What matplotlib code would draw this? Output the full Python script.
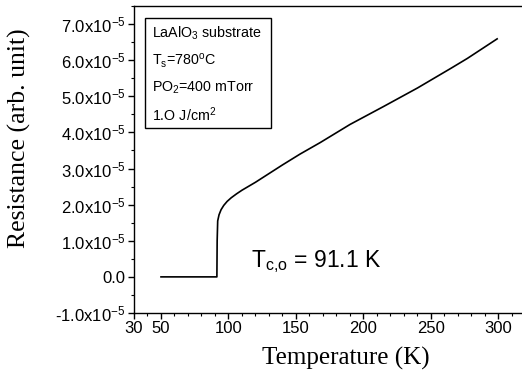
import matplotlib.pyplot as plt
from matplotlib.patches import Rectangle
from matplotlib.ticker import MultipleLocator, FixedLocator

plt.rcParams['font.family'] = ['Liberation Sans', 'DejaVu Sans']
plt.rcParams['mathtext.default'] = 'regular'
plt.rcParams['axes.unicode_minus'] = False

# temperature (K) and resistance (units of 1e-5)
temps = [50, 91.4, 91.6, 92.0, 93.0, 94.5, 96.5, 99, 102, 106, 110, 115,
         120, 130, 140, 153, 168, 190, 215, 240, 265, 277, 299]
resist = [0, 0, 1.0, 1.55, 1.72, 1.86, 1.98, 2.09, 2.19, 2.30, 2.40, 2.51,
          2.62, 2.86, 3.10, 3.40, 3.72, 4.22, 4.72, 5.23, 5.78, 6.05, 6.59]

x_ticks = [30, 50, 100, 150, 200, 250, 300]
y_ticks = [-1, 0, 1, 2, 3, 4, 5, 6, 7]
y_labels = ['-1.0x10$^{-5}$', '0.0'] + ['%d.0x10$^{-5}$' % v for v in range(1, 8)]

box_lines = ['LaAlO$_3$ substrate', 'T$_s$=780$^o$C', 'PO$_2$=400 mTorr', '1.O J/cm$^2$']

fig = plt.figure(figsize=(5.22, 3.72), dpi=100)
ax = fig.add_axes([0.2567, 0.1586, 0.75, 0.8253])

ax.plot(temps, resist, color='black', lw=1.2)

ax.set_xlim(30, 320)
ax.set_ylim(-1, 7.5)

ax.xaxis.set_major_locator(FixedLocator(x_ticks))
ax.xaxis.set_minor_locator(MultipleLocator(10))
ax.set_yticks(y_ticks)
ax.set_yticklabels(y_labels)
ax.yaxis.set_minor_locator(MultipleLocator(0.5))

ax.tick_params(which='major', length=4, width=1, labelsize=12, pad=2)
ax.tick_params(which='minor', length=2.5, width=0.8)
for s in ax.spines.values():
    s.set_linewidth(1)
ax.spines['right'].set_visible(False)

ax.set_xlabel('Temperature (K)', fontsize=18, family='Liberation Serif')
ax.xaxis.set_label_coords(0.54, -0.112)
ax.set_ylabel('Resistance (arb. unit)', fontsize=18.5, family='Liberation Serif')
ax.yaxis.set_label_coords(-0.262, 0.57)

# info box
ax.add_patch(Rectangle((0.029, 0.603), 0.322, 0.358, transform=ax.transAxes,
                       fill=False, lw=1, ec='black'))
for txt, yy in zip(box_lines, [0.912, 0.822, 0.733, 0.645]):
    ax.text(0.046, yy, txt, transform=ax.transAxes, fontsize=10.3, va='center')

ax.text(0.298, 0.169, 'T$_{c{,}o}$ = 91.1 K', transform=ax.transAxes,
        fontsize=16.5, va='center')

plt.savefig('out.png', dpi=100)
